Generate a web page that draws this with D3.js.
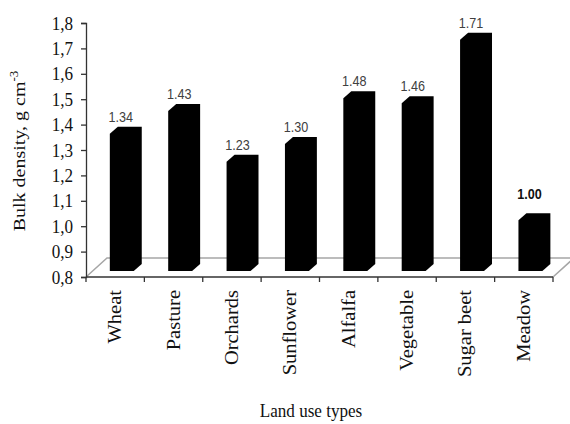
<!DOCTYPE html>
<html>
<head>
<meta charset="utf-8">
<script src="https://cdn.jsdelivr.net/npm/d3@7"></script>
<style>
  html, body { margin: 0; padding: 0; background: #fff; overflow: hidden; }
  svg { display: block; }
</style>
</head>
<body>
<svg id="chart" width="570" height="424"></svg>
<script>
const categories = ["Wheat", "Pasture", "Orchards", "Sunflower", "Alfalfa", "Vegetable", "Sugar beet", "Meadow"];
const values = [1.34, 1.43, 1.23, 1.30, 1.48, 1.46, 1.71, 1.00];
const valueLabels = ["1.34", "1.43", "1.23", "1.30", "1.48", "1.46", "1.71", "1.00"];
const yTicks = [0.8, 0.9, 1.0, 1.1, 1.2, 1.3, 1.4, 1.5, 1.6, 1.7, 1.8];
const yTickLabels = ["0,8", "0,9", "1,0", "1,1", "1,2", "1,3", "1,4", "1,5", "1,6", "1,7", "1,8"];

const svg = d3.select("#chart");
const width = +svg.attr("width");
const height = +svg.attr("height");
const margin = { top: 23, right: 17, bottom: 147, left: 86 };
const innerWidth = width - margin.left - margin.right;
const innerHeight = height - margin.top - margin.bottom;

const serif = "'Liberation Serif', 'Times New Roman', serif";

const x = d3.scaleBand()
  .domain(categories)
  .range([0, innerWidth])
  .paddingInner(0.59)
  .paddingOuter(0.295);

const y = d3.scaleLinear().domain([0.8, 1.8]).range([innerHeight, 0]);

// 3d offsets: floor depth, where the bar front sits, and the bar depth
const floorDx = 21, floorDy = 19;
const barOx = 6.6, barOy = 6;
const barDx = 8, barDy = 7;

const g = svg.append("g").attr("transform", `translate(${margin.left},${margin.top})`);

// floor
const base = y(0.8);
g.append("path")
  .attr("d", `M0,${base} L${floorDx},${base - floorDy} L${innerWidth + floorDx},${base - floorDy} L${innerWidth},${base}`)
  .attr("fill", "none")
  .attr("stroke", "#a6a6a6")
  .attr("stroke-width", 1.5);

// bars
const data = categories.map((c, i) => ({ cat: c, value: values[i], label: valueLabels[i] }));

g.selectAll("path.bar")
  .data(data)
  .enter()
  .append("path")
  .attr("class", "bar")
  .attr("fill", "#000")
  .attr("d", d => {
    const fx = x(d.cat) + barOx;
    const w = x.bandwidth();
    const fb = y(0.8) - barOy;
    const ft = y(d.value) - barOy;
    return `M${fx},${fb} L${fx},${ft} L${fx + barDx},${ft - barDy} L${fx + w + barDx},${ft - barDy}` +
      ` L${fx + w + barDx},${fb - barDy} L${fx + w},${fb} Z`;
  });

// value labels (text is a bit narrow in the source, so squeeze x)
g.selectAll("g.value")
  .data(data)
  .enter()
  .append("g")
  .attr("class", "value")
  .attr("transform", d => {
    const cx = x(d.cat) + barOx + x.bandwidth() / 2 - 1;
    const ty = y(d.value) - barOy - barDy - (d.cat === "Meadow" ? 14 : 5);
    return `translate(${cx},${ty}) scale(0.9,1)`;
  })
  .append("text")
  .attr("text-anchor", "middle")
  .attr("font-family", "'Liberation Sans', Arial, sans-serif")
  .attr("font-size", 14)
  .attr("font-weight", d => d.cat === "Meadow" ? "bold" : "normal")
  .attr("fill", d => d.cat === "Meadow" ? "#111" : "#404040")
  .text(d => d.label);

// y axis
const yAxis = d3.axisLeft(y)
  .tickValues(yTicks)
  .tickFormat(() => "")
  .tickSize(5);

const yAxisG = g.append("g").call(yAxis);
yAxisG.select(".domain").attr("stroke", "#333").attr("stroke-width", 1.3);
yAxisG.selectAll(".tick line").attr("stroke", "#333").attr("stroke-width", 1.3);
yAxisG.selectAll(".tick")
  .append("g")
  .attr("transform", "translate(-13,0) scale(0.9,1)")
  .append("text")
  .attr("text-anchor", "end")
  .attr("dy", "0.32em")
  .attr("font-family", serif)
  .attr("font-size", 19)
  .attr("fill", "#111")
  .text((d, i) => yTickLabels[i]);

// x axis line with boundary ticks
g.append("line")
  .attr("x1", 0).attr("x2", innerWidth)
  .attr("y1", base).attr("y2", base)
  .attr("stroke", "#333").attr("stroke-width", 1.3);

g.selectAll("line.xtick")
  .data(d3.range(categories.length + 1))
  .enter()
  .append("line")
  .attr("class", "xtick")
  .attr("x1", i => i * x.step()).attr("x2", i => i * x.step())
  .attr("y1", base).attr("y2", base + 5)
  .attr("stroke", "#333").attr("stroke-width", 1.3);

// category labels, rotated
g.selectAll("g.cat")
  .data(categories)
  .enter()
  .append("g")
  .attr("class", "cat")
  .attr("transform", c => `translate(${x(c) + x.bandwidth() / 2 + 6},${base + 13}) scale(0.87,1) rotate(-90)`)
  .append("text")
  .attr("text-anchor", "end")
  .attr("font-family", serif)
  .attr("font-size", 20.5)
  .attr("fill", "#111")
  .text(c => c);

// axis titles
const yTitle = svg.append("g")
  .attr("transform", "translate(25,151) scale(0.88,1) rotate(-90)")
  .append("text")
  .attr("text-anchor", "middle")
  .attr("font-family", serif)
  .attr("font-size", 20)
  .attr("fill", "#111");
yTitle.append("tspan").text("Bulk density, g cm");
yTitle.append("tspan").attr("font-size", 13).attr("dy", -8).text("-3");

svg.append("g")
  .attr("transform", "translate(311,417) scale(0.9,1)")
  .append("text")
  .attr("text-anchor", "middle")
  .attr("font-family", serif)
  .attr("font-size", 19)
  .attr("fill", "#111")
  .text("Land use types");
</script>
</body>
</html>
